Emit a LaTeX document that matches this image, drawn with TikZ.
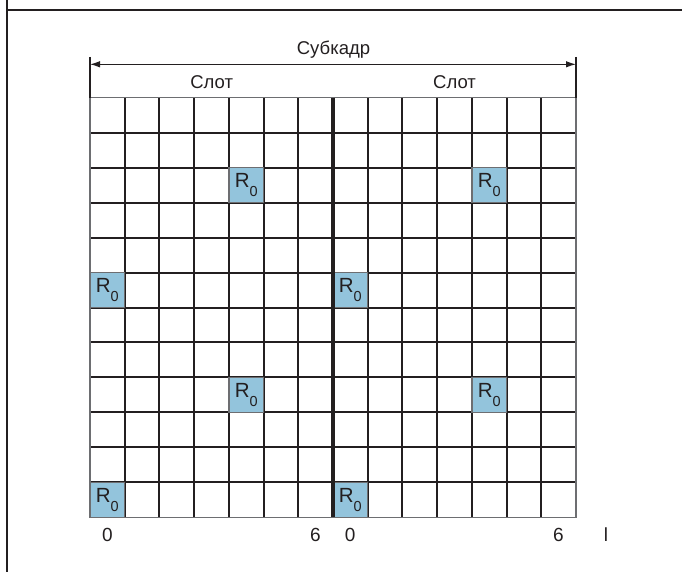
\documentclass[tikz,border=0pt]{standalone}
\usepackage{fontspec}
\setmainfont{Liberation Sans}
\usetikzlibrary{arrows.meta}
\definecolor{ink}{HTML}{231F20}
\definecolor{rim}{HTML}{6D6E71}
\definecolor{cellblue}{HTML}{93C4DC}
\begin{document}
\begin{tikzpicture}[x=1pt,y=-1pt,
  frameline/.style={ink,line width=1.3pt},
  gridline/.style={ink,line width=2pt},
  rimline/.style={rim,line width=1.5pt},
  midline/.style={ink,line width=4.5pt},
  dimline/.style={ink,line width=1.1pt},
  rcell/.style={draw=rim,line width=1.5pt,fill=cellblue,anchor=north west,
    minimum width=34.714pt,minimum height=34.967pt,inner sep=0pt,outer sep=0pt,
    text=ink,font=\fontsize{20.5}{22}\selectfont},
  toplabel/.style={anchor=base,text=ink,inner sep=0pt,font=\fontsize{18.5}{20}\selectfont},
  idxlabel/.style={anchor=base,text=ink,inner sep=0pt,font=\fontsize{19}{20}\selectfont}]
\useasboundingbox (0,0) rectangle (682,572);
% frame
\draw[frameline] (7,0) -- (7,572);
\draw[frameline] (7,10) -- (682,10);
% grid
\foreach \i in {1,...,13}
  \draw[gridline] ({90+\i*34.714},97.7) -- ({90+\i*34.714},517.3);
\foreach \j in {1,...,11}
  \draw[gridline] (90,{97.7+\j*34.967}) -- (576,{97.7+\j*34.967});
% R0 cells
\foreach \c/\r in {4/2,11/2,0/5,7/5,4/8,11/8,0/11,7/11}
  \node[rcell] (r\c-\r) at ({90+\c*34.714},{97.7+\r*34.967})
    {R\raisebox{-9pt}{\fontsize{14.5}{15}\selectfont 0}};
% outer border and middle line
\draw[rimline] (90,97.7) rectangle (576,517.3);
\coordinate (gtl) at (90,97.7);
\coordinate (gtr) at (576,97.7);
\coordinate (mtop) at (333,97.7);
\coordinate (mbot) at (333,517.3);
\draw[midline] (mtop) -- (mbot);
% dimension arrow
\coordinate (tl) at (90,57);
\coordinate (tr) at (576,57);
\coordinate (al) at (90,64.3);
\coordinate (ar) at (576,64.3);
\draw[dimline] (tl) -- (gtl);
\draw[dimline] (tr) -- (gtr);
\draw[dimline,{Latex[length=10pt,width=6.5pt]}-{Latex[length=10pt,width=6.5pt]}] (al) -- (ar);
% labels
\node[toplabel] (sub) at (333.5,55) {Субкадр};
\node[toplabel] (s1) at (211.7,88.3) {Слот};
\node[toplabel] (s2) at (454.6,88.3) {Слот};
\node[idxlabel] (i0) at (107.4,541.7) {0};
\node[idxlabel] (i6) at (315.4,541.7) {6};
\node[idxlabel] (j0) at (350.1,541.7) {0};
\node[idxlabel] (j6) at (558.3,541.7) {6};
\node[idxlabel] (il) at (606,541.7) {l};
\end{tikzpicture}
\end{document}
